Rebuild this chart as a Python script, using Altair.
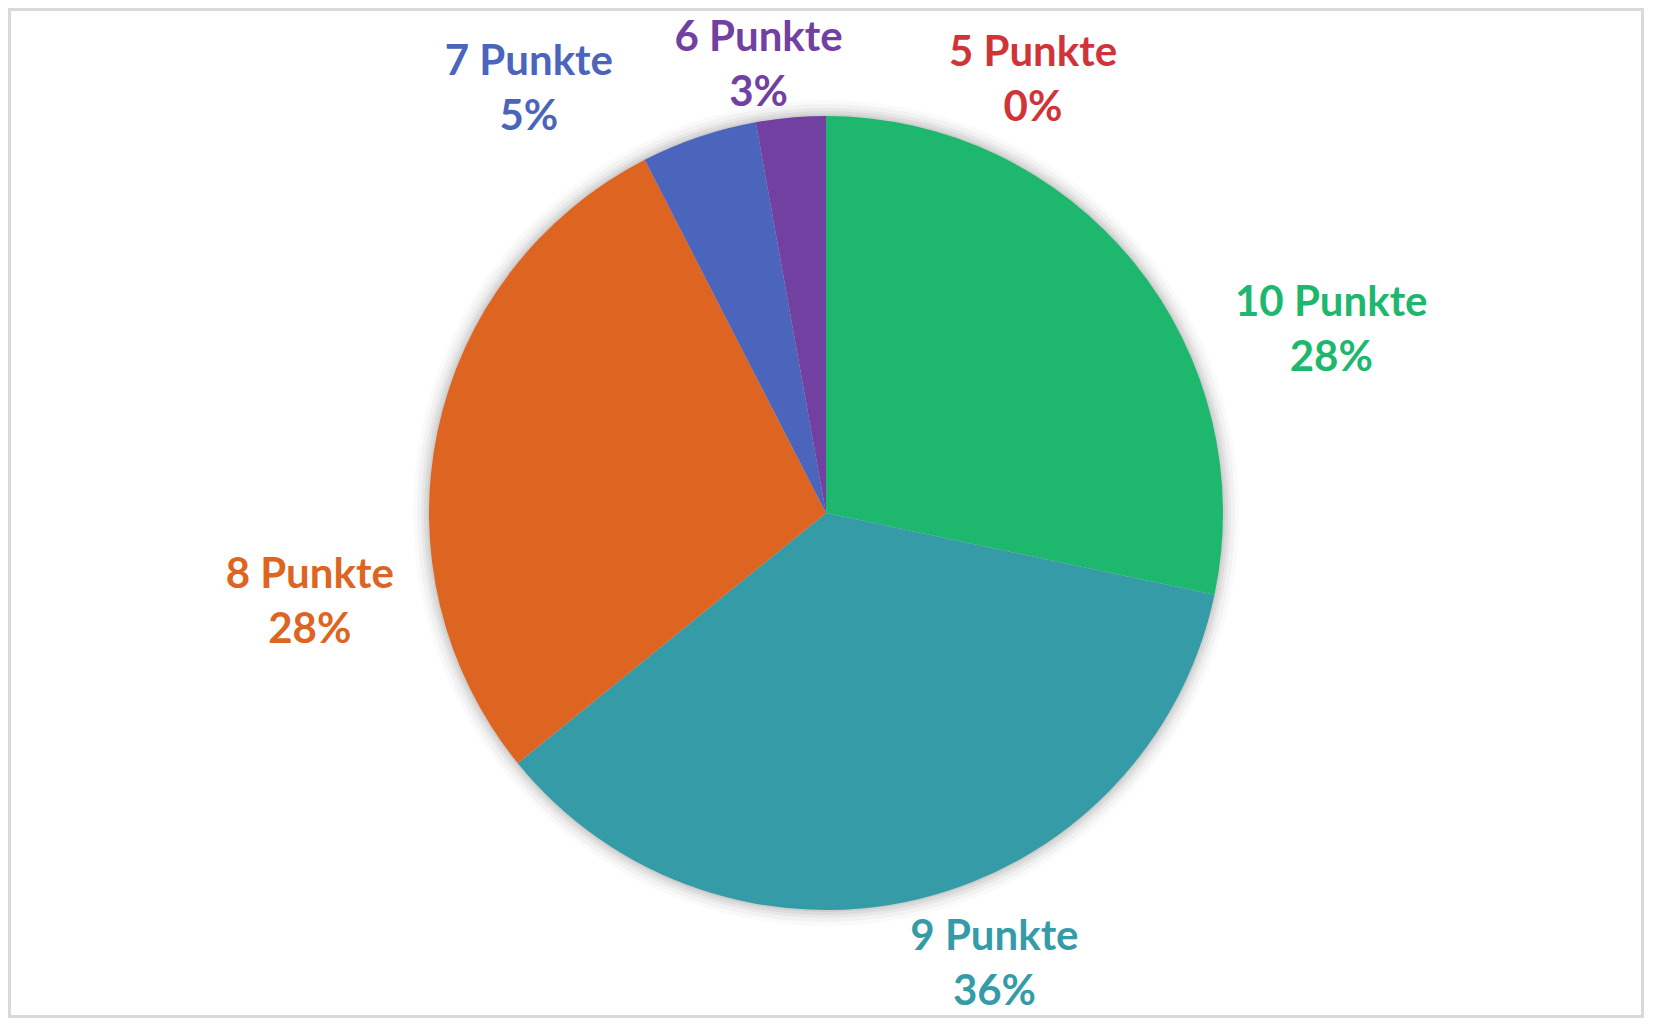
import math
import altair as alt
import pandas as pd

# ---- data ----
labels = ["10 Punkte", "9 Punkte", "8 Punkte", "7 Punkte", "6 Punkte", "5 Punkte"]
counts = [30, 38, 30, 5, 3, 0]
order_idx = [1, 2, 3, 4, 5, 6]
colors = ["#1DB86D", "#359CA7", "#DE6521", "#4A65BB", "#7140A1", "#D13438"]

df = pd.DataFrame({"label": labels, "count": counts, "idx": order_idx})
total = sum(counts)

# ---- style ----
W, H = 1636, 1010
R = 397
LABEL_R = 500
FONT = "Lato"
LH = 55
# label nudges (pixels) relative to the slice mid-angle position, to mimic Excel placement
nudge = {
    "10 Punkte": (117, 133),
    "9 Punkte": (51, -35),
    "8 Punkte": (-27, 192),
    "7 Punkte": (-137, 50),
    "6 Punkte": (-23, 51),
    "5 Punkte": (207, 67),
}

color_scale = alt.Scale(domain=labels, range=colors)
theta_scale = alt.Scale(domain=[0, total])

base = alt.Chart(df)

# chart border
border = base.mark_rect(fillOpacity=0, stroke="#D9D9D9", strokeWidth=3).encode(
    x=alt.value(1.5), x2=alt.value(W - 1.5), y=alt.value(1.5), y2=alt.value(H - 1.5)
).transform_filter(alt.datum.idx == 1)

# soft shadow halo
shadow_layers = []
for extra, op in [(16, 0.02), (12, 0.03), (8, 0.04), (5, 0.05), (2, 0.06)]:
    shadow_layers.append(
        base.mark_arc(radius=R + extra, color="#000000", opacity=op).encode(
            theta=alt.value(0), theta2=alt.value(2 * math.pi)
        ).transform_filter(alt.datum.idx == 1)
    )

pie = base.mark_arc(radius=R).encode(
    theta=alt.Theta("count:Q", stack=True, scale=theta_scale),
    color=alt.Color("label:N", scale=color_scale, legend=None),
    order=alt.Order("idx:Q", sort="ascending"),
)

text_base = base.transform_joinaggregate(
    tot="sum(count)"
).transform_window(
    cum="sum(count)", sort=[alt.SortField("idx", order="ascending")],
    frame=[None, 0]
).transform_calculate(
    mid="datum.cum - datum.count / 2",
    txt="datum.label + '\\n' + format(datum.count / datum.tot, '.0%')",
)

text_layers = []
for lab in labels:
    dx, dy = nudge[lab]
    text_layers.append(
        text_base.transform_filter(alt.datum.label == lab).mark_text(
            radius=LABEL_R, dx=dx, dy=dy - LH / 2, font=FONT, fontSize=42,
            fontWeight="bold", align="center", baseline="middle",
            lineBreak="\n", lineHeight=LH,
        ).encode(
            theta=alt.Theta("mid:Q", stack=None, scale=theta_scale),
            text="txt:N",
            color=alt.Color("label:N", scale=color_scale, legend=None),
        )
    )

chart = alt.layer(border, *shadow_layers, pie, *text_layers).properties(
    width=W, height=H, padding=0,
    autosize=alt.AutoSizeParams(type="none"),
).configure_view(stroke=None)

chart.save("out.html", embed_options={"renderer": "svg", "actions": False})
